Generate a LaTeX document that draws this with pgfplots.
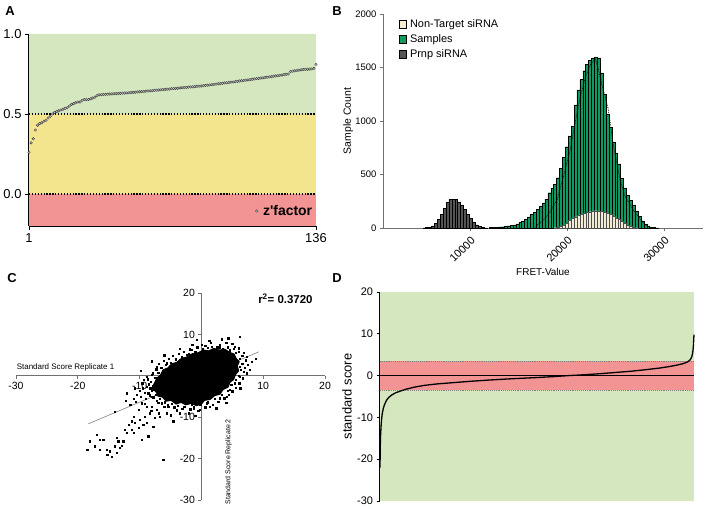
\documentclass[border=0pt]{standalone}
\usepackage{pgfplots}
\pgfplotsset{compat=1.18}
\usepackage{fontspec}
\setmainfont{Liberation Sans}
\definecolor{zgreen}{HTML}{D4E7BE}
\definecolor{zyellow}{HTML}{F3E48E}
\definecolor{zred}{HTML}{F29394}
\definecolor{sgreen}{HTML}{0F9A62}
\definecolor{nbeige}{HTML}{F1ECD3}
\definecolor{pgray}{HTML}{555555}
\definecolor{axgray}{HTML}{707070}
\newcommand{\fs}[1]{\fontsize{#1}{#1}\selectfont}

\pgfplotstableread{
i z
1 0.26
2 0.32
3 0.345
4 0.40
5 0.43
6 0.44
7 0.445
8 0.455
9 0.46
10 0.475
11 0.485
12 0.50
13 0.51
14 0.515
15 0.52
16 0.525
17 0.53
18 0.535
19 0.54
20 0.55
21 0.56
22 0.565
23 0.57
24 0.575
25 0.575
26 0.585
27 0.59
28 0.59
29 0.59
30 0.595
31 0.60
32 0.605
33 0.615
34 0.620
35 0.621
36 0.622
37 0.623
38 0.624
39 0.625
40 0.626
41 0.627
42 0.628
43 0.628
44 0.629
45 0.630
46 0.631
47 0.632
48 0.633
49 0.634
50 0.635
51 0.636
52 0.638
53 0.639
54 0.640
55 0.641
56 0.643
57 0.644
58 0.645
59 0.646
60 0.648
61 0.649
62 0.650
63 0.651
64 0.653
65 0.654
66 0.655
67 0.656
68 0.658
69 0.659
70 0.660
71 0.661
72 0.663
73 0.664
74 0.665
75 0.666
76 0.668
77 0.669
78 0.670
79 0.671
80 0.673
81 0.674
82 0.675
83 0.677
84 0.679
85 0.680
86 0.682
87 0.684
88 0.685
89 0.687
90 0.689
91 0.690
92 0.692
93 0.694
94 0.695
95 0.697
96 0.699
97 0.700
98 0.702
99 0.704
100 0.706
101 0.708
102 0.710
103 0.712
104 0.713
105 0.715
106 0.717
107 0.719
108 0.721
109 0.723
110 0.725
111 0.726
112 0.728
113 0.730
114 0.732
115 0.734
116 0.736
117 0.738
118 0.740
119 0.742
120 0.744
121 0.746
122 0.748
123 0.750
124 0.765
125 0.768
126 0.770
127 0.772
128 0.774
129 0.776
130 0.778
131 0.779
132 0.780
133 0.781
134 0.782
135 0.785
136 0.810
}\zfactor

\pgfplotstableread{
x n
12000 4
12300 6
12600 8
12900 10
13200 12
13500 15
13800 19
14100 24
14400 30
14700 38
15000 50
15300 62
15600 80
15900 105
16200 125
16500 145
16800 175
17100 200
17400 235
17700 270
18000 330
18300 370
18600 405
18900 470
19200 560
19500 660
19800 760
20100 860
20400 950
20700 1150
21000 1290
21300 1390
21600 1470
21900 1530
22200 1570
22500 1590
22800 1595
23100 1590
23400 1450
23700 1250
24000 1060
24300 940
24600 800
24900 700
25200 600
25500 465
25800 375
26100 310
26400 260
26700 215
27000 160
27300 110
27600 65
27900 35
28200 20
28500 10
28800 5
29100 2
29400 0
}\samples

\pgfplotstableread{
x n
18600 3
18900 8
19200 15
19500 25
19800 45
20100 70
20400 90
20700 105
21000 118
21300 128
21600 138
21900 145
22200 152
22500 160
22800 162
23100 160
23400 155
23700 148
24000 140
24300 125
24600 112
24900 95
25200 80
25500 65
25800 45
26100 28
26400 15
26700 6
27000 2
27300 0
}\nontarget

\pgfplotstableread{
x n
5100 2
5400 4
5700 8
6000 20
6300 45
6600 80
6900 130
7200 185
7500 240
7800 268
8100 270
8400 265
8700 245
9000 215
9300 175
9600 130
9900 90
10200 55
10500 30
10800 15
11100 6
11400 2
11700 0
}\prnp

\pgfplotstableread{
x y
-8.0 -3.0
-7.6 -1.8
-7.2 -0.6
-6.6 0.2
-6.2 1.4
-5.4 1.9
-4.8 2.9
-4.0 3.2
-3.2 4.2
-2.4 4.5
-1.5 5.3
-0.6 5.5
0.3 6.2
1.2 6.0
2.0 6.6
2.9 6.2
3.8 6.4
4.5 5.7
5.3 5.2
5.6 4.2
6.1 3.4
5.8 2.4
6.0 1.2
5.5 0.3
5.2 -0.9
4.6 -1.6
4.3 -2.7
3.5 -3.3
3.0 -4.4
2.1 -4.8
1.4 -5.7
0.5 -5.9
0.0 -6.8
-0.8 -7.2
-1.6 -6.6
-2.5 -7.0
-3.3 -6.4
-4.1 -6.8
-4.9 -5.9
-5.7 -6.1
-6.3 -5.1
-7.0 -4.9
-7.3 -3.9
}\cloud

\pgfplotstableread{
x y
-18.46 -17.83
-18.03 -15.82
-17.22 -17.03
-16.41 -17.83
-16.41 -15.42
-15.33 -17.83
-15.22 -19.04
-14.79 -18.23
-14.52 -19.60
-13.98 -17.03
-13.71 -18.63
-13.44 -15.82
-13.17 -17.43
-12.63 -15.82
-12.36 -13.01
-12.09 -13.82
-11.82 -11.81
-11.28 -13.01
-11.28 -11.00
-11.01 -13.82
-10.74 -11.41
-10.20 -12.61
-9.94 -10.60
-9.67 -15.42
-9.40 -11.81
-9.13 -9.80
-8.86 -11.41
-8.59 -14.62
-8.32 -9.00
-8.05 -7.39
-7.78 -12.21
-7.51 -10.20
-7.24 -8.19
-6.70 -9.80
-6.16 -20.20
-5.62 -9.00
-5.35 -7.39
-4.54 -11.00
-3.46 -9.00
-2.65 -7.39
-1.57 -6.99
-1.30 -7.79
-13.98 -8.59
-13.71 -15.02
-12.09 -4.18
-15.87 -15.42
-16.95 -14.22
-12.90 -16.87
-11.01 -9.80
-10.20 -8.19
-9.67 -6.59
-8.86 -7.39
-8.05 -4.98
-7.78 -3.37
-1.57 6.27
-0.77 8.67
1.28 8.43
2.47 7.07
3.28 8.84
4.36 9.08
5.44 7.07
6.25 9.48
5.98 6.67
7.33 4.66
8.13 3.45
7.33 0.64
6.25 -0.16
1.93 5.86
-2.38 5.06
-3.46 3.86
-4.54 2.65
-5.62 3.05
-7.24 2.25
-8.86 -0.16
-9.29 -0.96
-8.05 0.24
5.71 3.05
6.25 2.25
5.17 0.64
5.44 -1.77
4.63 -3.37
4.09 -4.98
3.01 -5.38
1.39 -7.39
-0.23 -8.19
0.85 -6.59
-7.8 -2.5
-8.2 -1.5
-7.5 -0.5
-7.0 0.8
-6.5 2.0
-5.8 2.6
-5.0 3.2
-4.2 4.0
-3.2 4.6
-2.0 5.4
-1.0 5.9
0.2 6.5
1.0 6.8
2.5 6.7
3.5 6.5
4.6 6.2
5.5 5.5
6.2 4.2
6.6 3.0
6.4 1.5
6.0 0.0
5.5 -1.0
4.8 -2.2
4.2 -3.6
3.3 -4.6
2.2 -5.6
1.0 -6.4
-0.2 -7.0
-1.2 -7.6
-2.8 -7.4
-3.8 -7.2
-4.8 -6.8
-5.9 -6.4
-6.8 -5.6
-7.4 -4.6
-8.0 -3.6
-8.6 -4.2
-9.0 -5.5
-7.0 -6.5
-6.0 -7.5
-4.0 -8.3
-8.5 -2.0
-9.5 -3.0
-10.5 -4.5
-11.0 -5.5
3.0 7.5
5.0 7.8
0.0 7.5
7.0 2.0
6.8 5.5
-8.3 -3.0
-8.9 -2.6
-9.6 -1.8
-8.7 -0.8
-7.9 0.6
-7.3 1.6
-6.9 2.9
-6.1 3.6
-5.3 4.1
-4.6 4.8
-3.7 5.3
-2.9 5.9
-1.9 6.4
-0.7 6.9
0.6 7.2
1.7 7.1
2.9 6.9
4.2 6.9
5.2 6.6
6.0 5.9
6.6 4.9
7.2 3.8
7.5 2.6
6.9 1.0
6.7 -0.6
6.1 -1.8
5.6 -2.8
5.0 -3.7
4.4 -4.6
3.7 -5.4
2.7 -6.2
1.8 -7.0
0.6 -7.6
-0.5 -8.4
-1.8 -8.1
-3.1 -8.0
-4.4 -7.6
-5.5 -7.0
-6.4 -6.6
-7.2 -6.0
-7.8 -5.2
-8.4 -4.7
-9.2 -4.0
-10.0 -3.6
-10.8 -3.0
-9.8 -5.0
-10.6 -6.2
-11.5 -7.0
-12.2 -6.0
-9.2 -6.8
-8.1 -8.5
-6.9 -9.0
-5.0 -9.5
-2.0 -9.0
-1.0 -9.6
2.4 -7.8
4.0 -6.5
6.3 -3.0
7.8 1.5
8.8 4.1
4.0 8.0
1.5 8.0
-1.5 7.5
-3.5 6.5
-6.0 5.0
-8.0 3.5
-9.8 1.2
}\outliers

\begin{document}
\begin{tikzpicture}
\useasboundingbox (0,0) rectangle (708bp,-509bp);

\node[font=\bfseries\fs{13}] at (10bp,-11bp) {A};
\node[font=\bfseries\fs{13}] at (337bp,-11bp) {B};
\node[font=\bfseries\fs{13}] at (12bp,-278bp) {C};
\node[font=\bfseries\fs{13}] at (337bp,-278bp) {D};

% ---------------- Panel A
\begin{axis}[at={(29bp,-226bp)}, anchor=south west, scale only axis,
  width=287bp, height=192bp,
  xmin=1, xmax=136, ymin=-0.2, ymax=1,
  axis x line*=bottom, axis y line*=left,
  axis line style={line width=1.1bp, black},
  xtick={1,136}, ytick={0,0.5,1}, yticklabels={0.0,0.5,1.0},
  tick align=outside, major tick length=4bp,
  tick style={line width=1bp, black},
  ticklabel style={font=\fs{13}},
  /pgf/number format/assume math mode=true,
  clip=false,
  legend style={draw=none, fill=none, at={(1.015,0.078)}, anchor=east,
    font=\bfseries\fs{14}, nodes={inner xsep=5bp}},
]
\addplot[draw=none, fill=zred, forget plot] coordinates {(1,-0.2) (136,-0.2) (136,0) (1,0)} -- cycle;
\addplot[draw=none, fill=zyellow, forget plot] coordinates {(1,0) (136,0) (136,0.5) (1,0.5)} -- cycle;
\addplot[draw=none, fill=zgreen, forget plot] coordinates {(1,0.5) (136,0.5) (136,1) (1,1)} -- cycle;
\addplot[black, line width=1.3bp, dash pattern=on 1.3bp off 1.6bp, forget plot] coordinates {(1,0.5) (136,0.5)};
\addplot[black, line width=1.3bp, dash pattern=on 1.3bp off 1.6bp, forget plot] coordinates {(1,0) (136,0)};
\addplot[only marks, mark=*, mark size=1.3bp,
  mark options={fill=gray!45, draw=black!75, line width=0.4bp}] table[x=i, y=z] {\zfactor};
\legend{z\textquotesingle factor}
\end{axis}

% ---------------- Panel B
\begin{axis}[at={(383bp,-228bp)}, anchor=south west, scale only axis,
  width=320bp, height=214bp,
  xmin=1000, xmax=34000, ymin=0, ymax=2000,
  axis x line*=bottom, axis y line*=left,
  axis line style={line width=0.8bp, axgray},
  xtick={10000,20000,30000}, ytick={0,500,1000,1500,2000},
  scaled x ticks=false, scaled y ticks=false,
  /pgf/number format/1000 sep={},
  /pgf/number format/assume math mode=true,
  tick align=outside, major tick length=3bp,
  tick style={line width=0.7bp, axgray},
  yticklabel style={font=\fs{9.5}},
  xticklabel style={font=\fs{11}, rotate=45, anchor=north east},
  xlabel={FRET-Value}, ylabel={Sample Count},
  every axis x label/.style={at={(axis description cs:0.5,-0.206)}, anchor=center, font=\fs{10}},
  every axis y label/.style={at={(axis description cs:-0.109,0.5)}, anchor=center, rotate=90, font=\fs{10.5}},
  legend style={draw=none, fill=none, at={(0.045,0.99)}, anchor=north west,
    font=\fs{11}, row sep=1.5bp, inner sep=1bp, nodes={inner xsep=4bp}},
  legend cell align=left,
  legend image code/.code={\draw[#1] (0bp,-4bp) rectangle (7bp,4bp);},
]
\addlegendimage{fill=nbeige, draw=black, line width=0.4bp}
\addlegendentry{Non-Target siRNA}
\addlegendimage{fill=sgreen, draw=black, line width=0.4bp}
\addlegendentry{Samples}
\addlegendimage{fill=pgray, draw=black, line width=0.4bp}
\addlegendentry{Prnp siRNA}
\addplot[ybar interval, fill=sgreen, draw=black, line width=0.35bp, forget plot] table[x=x, y=n] {\samples};
\addplot[black, densely dotted, line width=0.7bp, forget plot] coordinates {
(16500,0) (17400,60) (18200,150) (18950,262) (19600,480) (20300,730) (20800,980)
(21350,1227) (21900,1420) (22370,1523) (22900,1580) (23230,1477) (23600,1330)
(23910,1227) (24250,1103) (24780,760) (25460,449) (25970,293) (26830,168)
(27860,47) (28500,5)};
\addplot[ybar interval, fill=nbeige, draw=black!70, line width=0.3bp, forget plot] table[x=x, y=n] {\nontarget};
\addplot[ybar interval, fill=pgray, draw=black, line width=0.35bp, forget plot] table[x=x, y=n] {\prnp};
\end{axis}

% ---------------- Panel C
\begin{axis}[at={(16bp,-500bp)}, anchor=south west, scale only axis,
  width=309bp, height=207bp,
  xmin=-30, xmax=20, ymin=-30, ymax=20,
  axis x line*=middle, axis y line*=middle,
  axis line style={line width=1bp, axgray},
  xtick={-30,-20,-10,10,20}, ytick={-30,-20,-10,10,20},
  tick align=outside, major tick length=3bp,
  tick style={line width=0.8bp, axgray},
  ticklabel style={font=\fs{10.5}},
  /pgf/number format/assume math mode=true,
  clip=false,
]
\addplot[gray, line width=0.6bp] coordinates {(-18.3,-11.6) (9.3,5.8)};
\addplot[fill=black, draw=black, line width=1.2bp] table[x=x, y=y] {\cloud} -- cycle;
\addplot[only marks, mark=square*, mark size=0.65bp, black] table[x=x, y=y] {\outliers};
\node[font=\fs{8}, anchor=south west, inner sep=0pt] at (axis cs:-29.9,1.0) {Standard Score Replicate 1};
\node[font=\fs{7}, anchor=center, rotate=90, inner sep=0pt] at (axis cs:4.4,-20.8) {Standard Score Replicate 2};
\node[font=\bfseries\fs{11.5}, anchor=center] at (axis cs:13.6,18.6) {r\textsuperscript{2}= 0.3720};
\end{axis}

% ---------------- Panel D
\begin{axis}[at={(380bp,-501bp)}, anchor=south west, scale only axis,
  width=314bp, height=209bp,
  xmin=0, xmax=100, ymin=-30, ymax=20,
  axis y line*=left, axis x line=none,
  axis line style={line width=1.2bp, black},
  ytick={-30,-20,-10,0,10,20},
  tick align=outside, major tick length=3.5bp,
  tick style={line width=1bp, black},
  ticklabel style={font=\fs{11}},
  /pgf/number format/assume math mode=true,
  ylabel={standard score},
  every axis y label/.style={at={(axis description cs:-0.105,0.5)}, anchor=center, rotate=90, font=\fs{13}},
  clip=false,
]
\addplot[draw=none, fill=zgreen] coordinates {(0,-30) (100,-30) (100,20) (0,20)} -- cycle;
\addplot[draw=none, fill=zred] coordinates {(0,-3.5) (100,-3.5) (100,3.5) (0,3.5)} -- cycle;
\addplot[gray, line width=0.9bp, densely dotted] coordinates {(0,3.5) (100,3.5)};
\addplot[gray, line width=0.9bp, densely dotted] coordinates {(0,-3.5) (100,-3.5)};
\addplot[black, line width=0.8bp] coordinates {(0,0) (100,0)};
\addplot[black, line width=1.3bp] coordinates {
(0,-22) (0.05,-19) (0.1,-16.5) (0.2,-14) (0.35,-12) (0.5,-10.5) (0.7,-9.2)
(1,-8) (1.4,-7) (2,-6) (2.8,-5.2) (3.8,-4.6) (5,-4.1) (6.5,-3.7) (8.5,-3.2)
(11,-2.75) (14,-2.35) (18,-2.0) (23,-1.7) (29,-1.35) (35,-1.05) (42,-0.75)
(49,-0.5) (55,-0.25) (60,0) (65,0.2) (70,0.45) (75,0.75) (80,1.05) (85,1.45)
(89,1.8) (92,2.15) (94.5,2.5) (96.5,2.85) (98,3.3) (98.8,3.8) (99.3,4.5)
(99.6,5.5) (99.8,7) (99.9,8.5) (100,9.8)};
\end{axis}
\end{tikzpicture}
\end{document}
